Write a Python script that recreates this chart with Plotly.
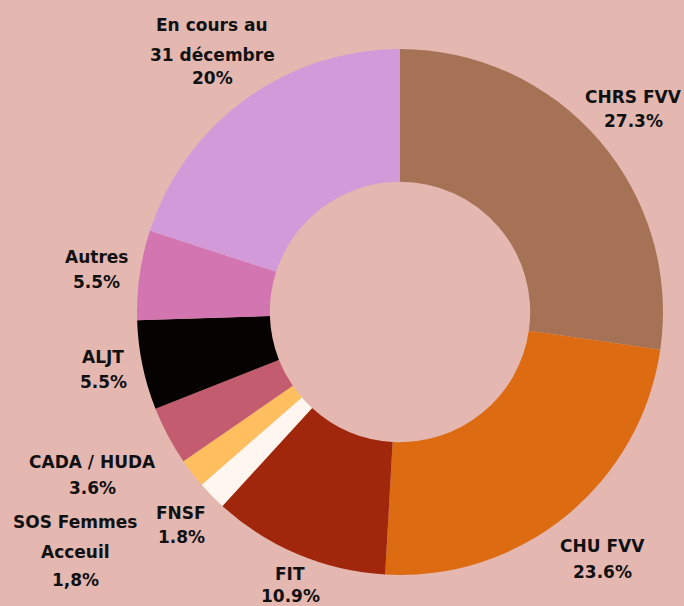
import plotly.graph_objects as go

W, H = 684, 606

categories = ["CHRS FVV", "CHU FVV", "FIT", "FNSF", "SOS Femmes Acceuil",
              "CADA / HUDA", "ALJT", "Autres", "En cours au 31 décembre"]
values = [27.3, 23.6, 10.9, 1.8, 1.8, 3.6, 5.5, 5.5, 20.0]
colors = ["#A67256", "#DC6B12", "#A0260C", "#FFF6F0", "#FFBF5F",
          "#C45C70", "#060201", "#D375B0", "#D39AD9"]

# label lines shown next to each slice
label_lines = [
    ["CHRS FVV", "27.3%"],
    ["CHU FVV", "23.6%"],
    ["FIT", "10.9%"],
    ["FNSF", "1.8%"],
    ["SOS Femmes", "Acceuil", "1,8%"],
    ["CADA / HUDA", "3.6%"],
    ["ALJT", "5.5%"],
    ["Autres", "5.5%"],
    ["En cours au", "31 décembre", "20%"],
]
# pixel centres of each line (x, [y per line])
label_pos = [
    (633, [97, 121]),
    (602, [546, 572]),
    (290, [574, 596]),
    (181, [513, 537]),
    (75, [522, 552, 580]),
    (92, [462, 488]),
    (103, [357, 382]),
    (96, [257, 282]),
    (212, [25, 55, 78]),
]

cx, cy, r = 400, 312, 263

fig = go.Figure(go.Pie(
    labels=categories, values=values, sort=False, direction="clockwise",
    rotation=0, hole=0.495, textinfo="none",
    marker=dict(colors=colors, line=dict(width=0)),
    domain=dict(x=[(cx - r) / W, (cx + r) / W],
                y=[(H - cy - r) / H, (H - cy + r) / H]),
    showlegend=False,
))

font = dict(family="DejaVu Sans", size=17, color="#111111")
anns = []
for lines, (px, ys) in zip(label_lines, label_pos):
    for t, py in zip(lines, ys):
        anns.append(dict(x=px / W, y=1 - py / H, xref="paper", yref="paper",
                         text="<b>" + t + "</b>", showarrow=False,
                         xanchor="center", yanchor="middle", font=font))

fig.update_layout(
    width=W, height=H, margin=dict(l=0, r=0, t=0, b=0),
    paper_bgcolor="#E4B8B1", plot_bgcolor="#E4B8B1",
    annotations=anns,
)
fig.write_html("out.html", config={"displayModeBar": False},
               post_script="document.body.style.margin='0';document.body.style.background='#E4B8B1';")
